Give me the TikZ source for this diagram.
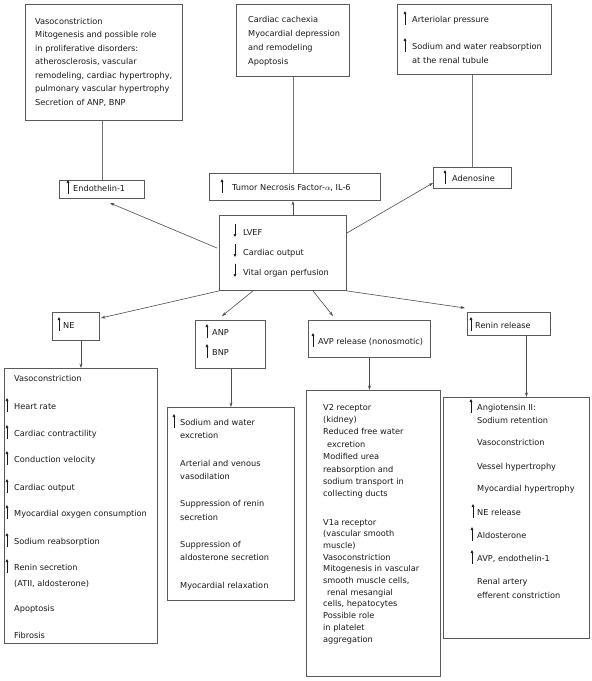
\documentclass[tikz,border=0pt]{standalone}
\usepackage{fontspec}
\setmainfont{DejaVu Sans}
\usetikzlibrary{arrows.meta,calc}
\tikzset{
  bx/.style={draw=black!65, line width=0.9pt, inner sep=0, anchor=north west, fill=white},
  txt/.style={anchor=base west, inner sep=0, font=\fontsize{8.2}{10}\selectfont, text=black!90},
  ln/.style={draw=black!55, line width=0.9pt},
  conn/.style={draw=black!70, line width=0.6pt, -{Stealth[length=4.5pt,width=3pt]}},
  ua/.style={draw=black!90, line width=0.6pt, -{Triangle[length=3pt,width=2.6pt]}}
}
\newcommand{\uarr}[2]{\draw[ua] ($(#2.base west)+(-#1,2.5)$) -- ++(0,-13.5);}
\newcommand{\darr}[2]{\draw[ua] ($(#2.base west)+(-#1,-11.5)$) -- ++(0,13.5);}
\begin{document}
\begin{tikzpicture}[x=1pt,y=-1pt]
\fill[white] (0,0) rectangle (592,681);
\useasboundingbox (0,0) rectangle (592,681);
% boxes
\node[bx, minimum width=157, minimum height=116] (tl) at (25,4) {};
\node[bx, minimum width=113, minimum height=72] (tm) at (236,4) {};
\node[bx, minimum width=154, minimum height=70] (tr) at (397,4) {};
\node[bx, minimum width=85, minimum height=18] (endo) at (59,180) {};
\node[bx, minimum width=171, minimum height=27] (tnf) at (209,173) {};
\node[bx, minimum width=78, minimum height=21] (adeno) at (433,167) {};
\node[bx, minimum width=127, minimum height=75] (lvef) at (219,215) {};
\node[bx, minimum width=47, minimum height=28] (ne) at (52,312) {};
\node[bx, minimum width=153, minimum height=275] (neeff) at (4,368) {};
\node[bx, minimum width=70, minimum height=48] (anp) at (195,320) {};
\node[bx, minimum width=127, minimum height=193] (anpeff) at (167,407) {};
\node[bx, minimum width=122, minimum height=37] (avp) at (308,320) {};
\node[bx, minimum width=134, minimum height=286] (avpeff) at (306,390) {};
\node[bx, minimum width=83, minimum height=23] (renin) at (467,312) {};
\node[bx, minimum width=146, minimum height=241] (renineff) at (443,397) {};
% top texts
\foreach \t [count=\i] in {Vasoconstriction, Mitogenesis and possible role, in proliferative disorders:, {atherosclerosis, vascular}, {remodeling, cardiac hypertrophy,}, pulmonary vascular hypertrophy, {Secretion of ANP, BNP}}
  \node[txt] (tlt\i) at (35,{24+13.5*(\i-1)}) {\t};
\foreach \t [count=\i] in {Cardiac cachexia, Myocardial depression, and remodeling, Apoptosis}
  \node[txt] (tmt\i) at (248,{22+14.3*(\i-1)}) {\t};
\node[txt] (trt1) at (412,22) {Arteriolar pressure};
\node[txt] (trt2) at (412,49) {Sodium and water reabsorption};
\node[txt] (trt3) at (412,63) {at the renal tubule};
\uarr{7}{trt1} \uarr{7}{trt2}
\node[txt] (endot) at (73,191) {Endothelin-1};
\uarr{5}{endot}
\node[txt] (tnft) at (232,190) {Tumor Necrosis Factor-$\alpha$, IL-6};
\uarr{10}{tnft}
\node[txt] (adenot) at (452,181) {Adenosine};
\uarr{7}{adenot}
% LVEF
\node[txt] (lv1) at (243,235) {LVEF};
\node[txt] (lv2) at (243,255) {Cardiac output};
\node[txt] (lv3) at (243,275) {Vital organ perfusion};
\darr{8}{lv1} \darr{8}{lv2} \darr{8}{lv3}
% NE
\node[txt] (net) at (63,328) {NE};
\uarr{4}{net}
\foreach \y/\t [count=\i] in {381/Vasoconstriction, 409/{Heart rate}, 436/{Cardiac contractility}, 462/{Conduction velocity}, 490/{Cardiac output}, 516/{Myocardial oxygen consumption}, 544/{Sodium reabsorption}, 570/{Renin secretion}, 586/{(ATII, aldosterone)}, 611/Apoptosis, 638/Fibrosis}
  \node[txt] (nee\i) at (14,\y) {\t};
\foreach \i in {2,...,8} {\uarr{7}{nee\i}}
% ANP
\node[txt] (anpt1) at (212,335) {ANP};
\node[txt] (anpt2) at (212,355) {BNP};
\uarr{5}{anpt1} \uarr{5}{anpt2}
\foreach \y/\t [count=\i] in {425/{Sodium and water}, 438/excretion, 466/{Arterial and venous}, 479/vasodilation, 506/{Suppression of renin}, 520/secretion, 547/{Suppression of}, 560/{aldosterone secretion}, 588/{Myocardial relaxation}}
  \node[txt] (anpe\i) at (180,\y) {\t};
\uarr{6}{anpe1}
% AVP
\node[txt] (avpt) at (318,344) {AVP release (nonosmotic)};
\uarr{5}{avpt}
\foreach \t [count=\i] in {{V2 receptor}, {(kidney)}, {Reduced free water}, {\hspace{4pt}excretion}, {Modified urea}, {reabsorption and}, {sodium transport in}, {collecting ducts}}
  \node[txt] (avpa\i) at (323,{410+12.4*(\i-1)}) {\t};
\foreach \t [count=\i] in {{V1a receptor}, {(vascular smooth}, {muscle)}, {Vasoconstriction}, {Mitogenesis in vascular}, {smooth muscle cells,}, {\hspace{4pt}renal mesangial}, {cells, hepatocytes}, {Possible role}, {in platelet}, {aggregation}}
  \node[txt] (avpb\i) at (323,{525+11.7*(\i-1)}) {\t};
% Renin
\node[txt] (rent) at (475,328) {Renin release};
\uarr{4}{rent}
\foreach \y/\t [count=\i] in {410/{Angiotensin II:}, 423/{Sodium retention}, 445/Vasoconstriction, 469/{Vessel hypertrophy}, 491/{Myocardial hypertrophy}, 515/{NE release}, 538/Aldosterone, 561/{AVP, endothelin-1}, 584/{Renal artery}, 598/{efferent constriction}}
  \node[txt] (rene\i) at (477,\y) {\t};
\uarr{6}{rene1} \uarr{4}{rene6} \uarr{5}{rene7} \uarr{5}{rene8}
% connectors
\draw[ln] (endo.north) -- (endo.north |- tl.south);
\draw[ln] (tm.south) -- (tm.south |- tnf.north);
\draw[ln] (adeno.north) -- (adeno.north |- tr.south);
\draw[conn] (tm.south |- lvef.north) -- (tm.south |- tnf.south);
\coordinate (endoTip) at (110,203);
\draw[conn] ($(lvef.north west)+(-2,33)$) -- (endoTip);
\coordinate (adenoTip) at (433,183);
\draw[conn] ($(lvef.north east)+(0,18)$) -- (adenoTip);
\coordinate (neTip) at (101,318);
\draw[conn] (lvef.south west) -- (neTip);
\coordinate (anpTip) at (222,316);
\draw[conn] ($(lvef.south west)+(34,0)$) -- (anpTip);
\coordinate (avpTip) at (333,316);
\draw[conn] ($(lvef.south west)+(94,0)$) -- (avpTip);
\coordinate (reninTip) at (465,308);
\draw[conn] (lvef.south east) -- (reninTip);
\draw[conn] (ne.south -| neeff.north) -- (neeff.north);
\draw[conn] (anpeff.north |- anp.south) -- (anpeff.north);
\draw[conn] (avp.south) -- (avp.south |- avpeff.north);
\coordinate (rs) at ($(renin.south)+(17.5,0)$);
\draw[conn] (rs) -- (rs |- renineff.north);
\end{tikzpicture}
\end{document}
